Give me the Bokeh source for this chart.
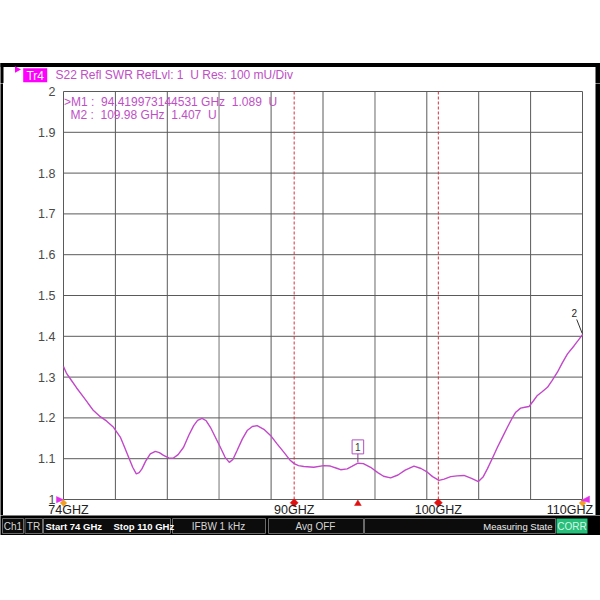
from bokeh.plotting import figure
from bokeh.layouts import column, row
from bokeh.models import Range1d, FixedTicker, Label
from bokeh.core.properties import value
from bokeh.embed import file_html
from bokeh.resources import INLINE

# ---------------- data ----------------
freq_ghz = [74.0, 74.2, 74.47, 74.9, 75.39, 75.7, 76.08, 76.55, 77.0, 77.47, 77.94, 78.2, 78.51,
            78.8, 79.05, 79.25, 79.44, 79.7, 80.02, 80.37, 80.65, 80.94, 81.3, 81.6, 81.95, 82.33,
            82.7, 83.03, 83.3, 83.61, 83.9, 84.19, 84.5, 84.88, 85.2, 85.5, 85.75, 86.04, 86.4,
            86.74, 87.1, 87.43, 87.9, 88.36, 88.8, 89.28, 89.7, 90.0, 90.3, 90.67, 91.36, 92.05,
            92.51, 93.0, 93.22, 93.68, 94.0, 94.42, 94.8, 95.3, 95.8, 96.2, 96.69, 97.2, 97.7,
            98.31, 98.8, 99.24, 99.6, 100.04, 100.4, 100.86, 101.3, 101.78, 102.3, 102.78, 103.1,
            103.4, 103.75, 104.1, 104.45, 104.79, 105.1, 105.37, 105.71, 106.0, 106.29, 106.6,
            106.87, 107.2, 107.57, 107.9, 108.26, 108.6, 108.96, 109.42, 109.7, 110.0]
swr = [1.326, 1.31, 1.296, 1.274, 1.251, 1.236, 1.218, 1.203, 1.192, 1.177, 1.153, 1.131, 1.104,
       1.079, 1.063, 1.066, 1.075, 1.094, 1.112, 1.118, 1.115, 1.108, 1.102, 1.101, 1.110, 1.128,
       1.158, 1.181, 1.194, 1.199, 1.193, 1.177, 1.155, 1.128, 1.104, 1.091, 1.098, 1.120, 1.148,
       1.169, 1.179, 1.181, 1.172, 1.157, 1.137, 1.116, 1.097, 1.088, 1.083, 1.081, 1.079, 1.083,
       1.082, 1.076, 1.073, 1.075, 1.081, 1.089, 1.088, 1.079, 1.066, 1.057, 1.053, 1.060, 1.072,
       1.082, 1.076, 1.067, 1.056, 1.047, 1.050, 1.056, 1.058, 1.059, 1.052, 1.044, 1.055,
       1.075, 1.101, 1.128, 1.153, 1.177, 1.198, 1.214, 1.224, 1.226, 1.228, 1.242,
       1.255, 1.264, 1.275, 1.292, 1.312, 1.335, 1.357, 1.377, 1.390, 1.404]

x_ticks = [74, 90, 100, 110]
x_tick_labels = ["74GHZ", "90GHZ", "100GHZ", "110GHZ"]
y_ticks = [1.0, 1.1, 1.2, 1.3, 1.4, 1.5, 1.6, 1.7, 1.8, 1.9, 2.0]
y_tick_labels = ["1", "1.1", "1.2", "1.3", "1.4", "1.5", "1.6", "1.7", "1.8", "1.9", "2"]
x_grid = [74, 77.6, 81.2, 84.8, 88.4, 92, 95.6, 99.2, 102.8, 106.4, 110]
x_grid_light = [84.8, 95.6]
limit_lines_ghz = [90, 100]
marker_names = ["M1", "M2"]
marker_freq_ghz = [94.419973144531, 109.98]
marker_freq_text = ["94.419973144531", "109.98"]
marker_swr = [1.089, 1.407]
start_ghz, stop_ghz = 74, 110
y_min, y_max = 1.0, 2.0
trace_name = "Tr4"
trace_title = "S22 Refl SWR RefLvl: 1  U Res: 100 mU/Div"
channel = "Ch1"
trig = "TR"
ifbw_text = "IFBW 1 kHz"
avg_text = "Avg OFF"
state_text = "Measuring State"
corr_text = "CORR"

# ---------------- layout constants (page pixels) ----------------
FONT = "Liberation Sans"
TRACE = "#c247c9"
MAG_TXT = "#c04fc6"
GRID = "#5a5a5a"
NB = "\u00a0"

def sp(t):
    return t.replace("  ", " " + NB)

HEAD_H = 83          # header strip: page y 0..83
MID_TOP, MID_BOT = 83, 515
STAT_TOP, STAT_BOT = 515, 535
LBAR, RBAR = 3, 595
DL, DR, DT, DB = 63, 582, 91, 499      # data area (74..110, 1..2)
FL, FR, FT, FB = LBAR, RBAR, MID_TOP, MID_BOT   # main frame = whole middle figure

def dX(px):
    return px / (DR - DL) * (stop_ghz - start_ghz)

def dY(px):
    return px / (DB - DT) * (y_max - y_min)

def chrome_fig(w, h, x0, x1, y0, y1, bg="white"):
    f = figure(width=w, height=h, x_range=Range1d(x0, x1), y_range=Range1d(y1, y0),
               output_backend="svg", toolbar_location=None, x_axis_type=None, y_axis_type=None,
               min_border=0, background_fill_color=bg, border_fill_color=bg)
    f.outline_line_color = None
    f.grid.visible = False
    return f

def ftext(f, xs, ys, ts, color, size, align="left", bold=False):
    f.text(x=xs, y=ys, text=ts, text_color=color, text_font=value(FONT),
           text_font_size=f"{size}px", text_align=align, text_baseline="middle",
           text_font_style="bold" if bold else "normal")

# ---------------- header ----------------
head = chrome_fig(600, HEAD_H, 0, 600, 0, HEAD_H)
head.quad(left=[-5, -5, RBAR], right=[605, LBAR, 605], top=[62.5, 62.5, 62.5],
          bottom=[66.5, HEAD_H + 1, HEAD_H + 1], fill_color="black", line_color=None)
head.patch(x=[14.5, 14.5, 20.5], y=[65.8, 72.2, 69], fill_color="#ff00ff", line_color=None)
head.quad(left=[22.7], right=[46.7], top=[67.7], bottom=[81.7], fill_color="#ff00ff", line_color=None)
ftext(head, [34.7], [75], [trace_name], "white", 12, "center")
ftext(head, [55], [74], [sp(trace_title)], MAG_TXT, 12, "left")

# ---------------- main plot ----------------
MW = RBAR - LBAR
MH = MID_BOT - MID_TOP
x_lo = start_ghz - dX(DL - FL)
x_hi = stop_ghz + dX(FR - DR)
y_lo = y_min - dY(FB - DB)
y_hi = y_max + dY(DT - FT)
p = figure(width=MW, height=MH, x_range=Range1d(x_lo, x_hi), y_range=Range1d(y_lo, y_hi),
           output_backend="svg", toolbar_location=None, min_border=0,
           background_fill_color="white", border_fill_color="white")
p.outline_line_color = None
p.grid.visible = False

tick_pos = [round(x_ticks[0] + dX(5), 3), x_ticks[1], x_ticks[2], round(x_ticks[3] - dX(12.5), 3)]
p.xaxis.ticker = FixedTicker(ticks=tick_pos)
p.xaxis.major_label_overrides = {t: lab for t, lab in zip(tick_pos, x_tick_labels)}
p.xaxis.fixed_location = y_min
p.yaxis.ticker = FixedTicker(ticks=y_ticks)
p.yaxis.major_label_overrides = {t: lab for t, lab in zip(y_ticks, y_tick_labels)}
p.yaxis.fixed_location = start_ghz
for ax in (p.xaxis[0], p.yaxis[0]):
    ax.axis_line_color = None
    ax.major_tick_line_color = None
    ax.minor_tick_line_color = None
    ax.major_tick_out = 0
    ax.major_tick_in = 0
    ax.minor_tick_out = 0
    ax.major_label_text_font = FONT
    ax.major_label_text_font_size = "12.5px"
p.xaxis.major_label_text_color = "#222222"
p.xaxis.major_label_standoff = 3
p.yaxis.major_label_text_color = "#4a4a4a"
p.yaxis.major_label_standoff = 8

# grid drawn through the data scales (limited to the data area)
p.segment(x0=x_grid, y0=[y_min] * len(x_grid), x1=x_grid, y1=[y_max] * len(x_grid),
          line_color=GRID, line_width=1)
p.segment(x0=x_grid_light, y0=[y_min] * len(x_grid_light), x1=x_grid_light,
          y1=[y_max] * len(x_grid_light), line_color="#b4b4b4", line_width=1.6)
p.segment(x0=[start_ghz] * len(y_ticks), y0=y_ticks, x1=[stop_ghz] * len(y_ticks), y1=y_ticks,
          line_color=GRID, line_width=1)

# limit lines
p.segment(x0=limit_lines_ghz, y0=[y_min] * 2, x1=limit_lines_ghz, y1=[y_max] * 2,
          line_color="#d8303c", line_dash="3 2", line_width=1)

# trace
p.line(freq_ghz, swr, line_color=TRACE, line_width=1.4)

# marker readout
lines = []
for i, (n, ft, v) in enumerate(zip(marker_names, marker_freq_text, marker_swr)):
    prefix = ">" if i == 0 else ""
    lines.append(sp(f"{prefix}{n} :  {ft} GHz  {v:.3f}  U"))
p.text(x=[start_ghz + dX(0.5), start_ghz + dX(7)], y=[y_max - dY(10.5), y_max - dY(23)], text=lines,
       text_color=MAG_TXT, text_font=value(FONT), text_font_size="12px",
       text_align="left", text_baseline="middle")

# marker 1 flag
m1x, m1y = marker_freq_ghz[0], marker_swr[0]
p.segment(x0=[m1x], y0=[m1y + dY(1)], x1=[m1x], y1=[m1y + dY(10.5)], line_color="#8a3a90", line_width=1)
p.add_layout(Label(x=m1x, y=m1y + dY(16.3), text="1", text_color="#333333", text_font=FONT,
                   text_font_size="10px", text_align="center", text_baseline="middle",
                   border_line_color="#b050c0", background_fill_color="white",
                   padding=3, level="overlay"))
# marker 2 flag
m2x, m2y = marker_freq_ghz[1], marker_swr[1]
p.segment(x0=[m2x - dX(5.5)], y0=[m2y + dY(14)], x1=[m2x], y1=[m2y], line_color="#333333", line_width=1)
p.text(x=[m2x - dX(8)], y=[m2y + dY(20)], text=["2"], text_color="#222222", text_font=value(FONT),
       text_font_size="10px", text_align="center", text_baseline="middle")

# bottom-edge markers (limit-line diamonds, marker triangle, start/stop symbols)
def diamond(cx, cy_off, r):
    cy = y_min - dY(cy_off)
    return [cx - dX(r), cx, cx + dX(r), cx], [cy, cy + dY(r), cy, cy - dY(r)]

dxs, dys = [], []
for lx in limit_lines_ghz:
    a, b = diamond(lx, 3.3, 4)
    dxs.append(a); dys.append(b)
p.patches(xs=dxs, ys=dys, fill_color="#e01010", line_color="#e01010", line_width=0.5)
p.patch(x=[m1x - dX(3.4), m1x + dX(3.4), m1x], y=[y_min - dY(6), y_min - dY(6), y_min - dY(0.5)],
        fill_color="#e01010", line_color="#e01010", line_width=0.5)
oxs, oys = [], []
for fx in (start_ghz, stop_ghz):
    a, b = diamond(fx, 3.5, 3.3)
    oxs.append(a); oys.append(b)
p.patches(xs=oxs, ys=oys, fill_color="#f0a020", line_color="#f0a020", line_width=0.5)
p.patches(xs=[[start_ghz - dX(7), start_ghz - dX(7), start_ghz],
              [stop_ghz + dX(7), stop_ghz + dX(7), stop_ghz - dX(1.5)]],
          ys=[[y_min + dY(3), y_min - dY(3.3), y_min - dY(0.2)],
              [y_min + dY(3.5), y_min - dY(3), y_min - dY(1)]],
          fill_color="#e030e8", line_color="#e030e8", line_width=0.5)

lbar = chrome_fig(LBAR, MH, 0, 1, 0, 1, bg="black")
rbar = chrome_fig(600 - RBAR, MH, 0, 1, 0, 1, bg="black")

# ---------------- status bar ----------------
st = chrome_fig(600, STAT_BOT - STAT_TOP, 0, 600, STAT_TOP, STAT_BOT, bg="black")
bl = [2, 24.5, 43, 172, 268, 364]
br = [23, 42, 170, 265, 363, 555]
st.quad(left=bl, right=br, top=[518] * 6, bottom=[533] * 6, fill_color="#0c0c0c",
        line_color="#6a6a6a", line_width=1)
st.quad(left=[556], right=[587], top=[518], bottom=[533], fill_color="#27c07b", line_color=None)
sy = 525.5
ftext(st, [12.5, 33, 218, 315], [sy] * 4, [channel, trig, ifbw_text, avg_text], "#d6d6d6", 10, "center")
ftext(st, [45, 113], [sy] * 2, [f"Start {start_ghz} GHz", f"Stop {stop_ghz} GHz"], "white", 9.5, "left", True)
ftext(st, [552], [sy], [state_text], "#eeeeee", 9.5, "right")
ftext(st, [571.5], [sy], [corr_text], "#d8f5e6", 10, "center")

layout = column(head, row(lbar, p, rbar, spacing=0), st, spacing=0)
open("out.html", "w").write(file_html(layout, INLINE))
